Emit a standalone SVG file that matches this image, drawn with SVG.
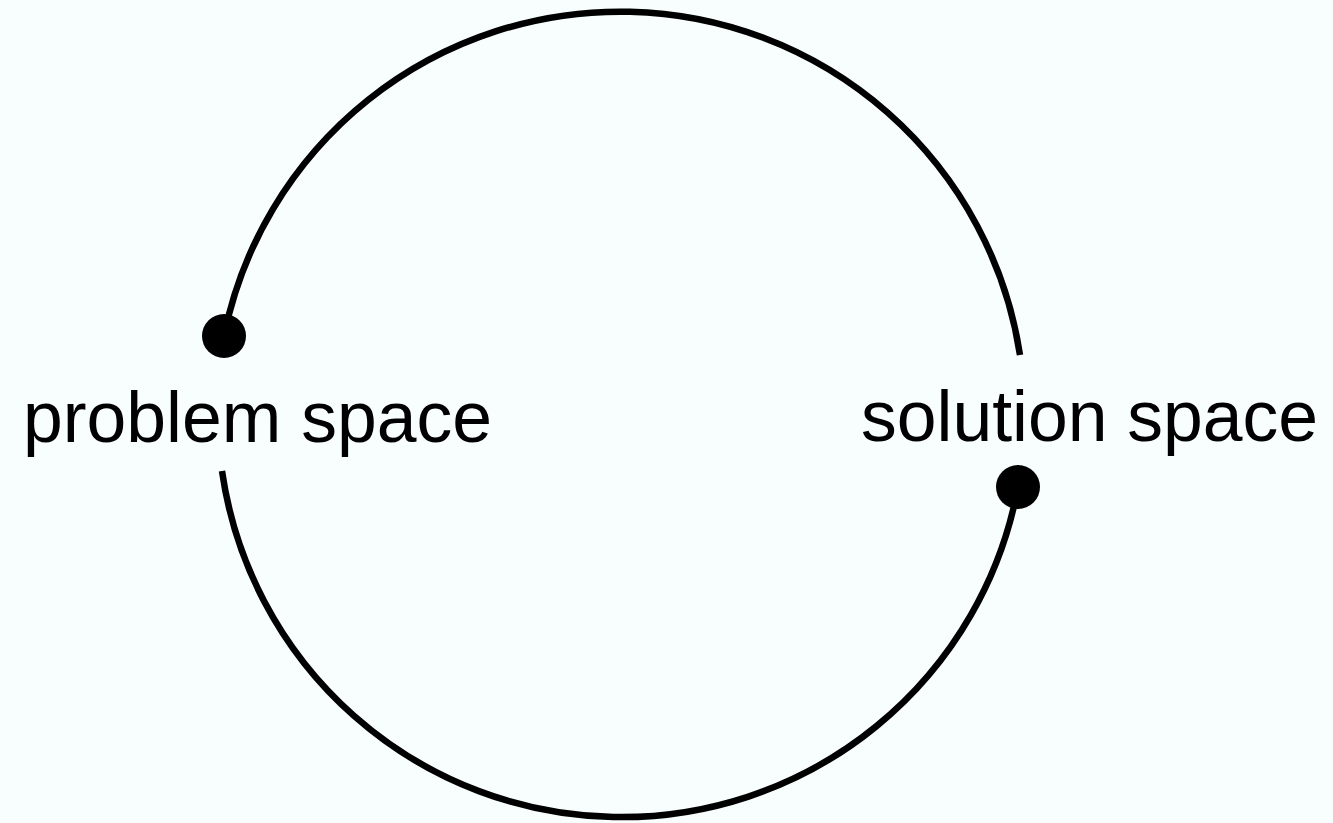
<svg xmlns="http://www.w3.org/2000/svg" width="1333" height="823" viewBox="0 0 1333 823">
<style>
.arc{fill:none;stroke:#000;stroke-width:6.5;}
.dot{fill:#000;}
.lbl{font-family:"Liberation Sans",Arial,sans-serif;font-size:71.5px;fill:#000;}
</style>
<rect width="1333" height="823" fill="#f8fdfd"/>
<g id="connectors">
<path class="arc" d="M224,336 A404.3,404.3 0 0 1 1020,355"/>
<path class="arc" d="M222,471 A403.4,403.4 0 0 0 1018,487"/>
</g>
<g id="problem-space">
<circle class="dot" cx="224" cy="336" r="22"/>
<text class="lbl" x="23" y="442">problem space</text>
</g>
<g id="solution-space">
<circle class="dot" cx="1018" cy="487" r="22"/>
<text class="lbl" x="861" y="441">solution space</text>
</g>
</svg>
